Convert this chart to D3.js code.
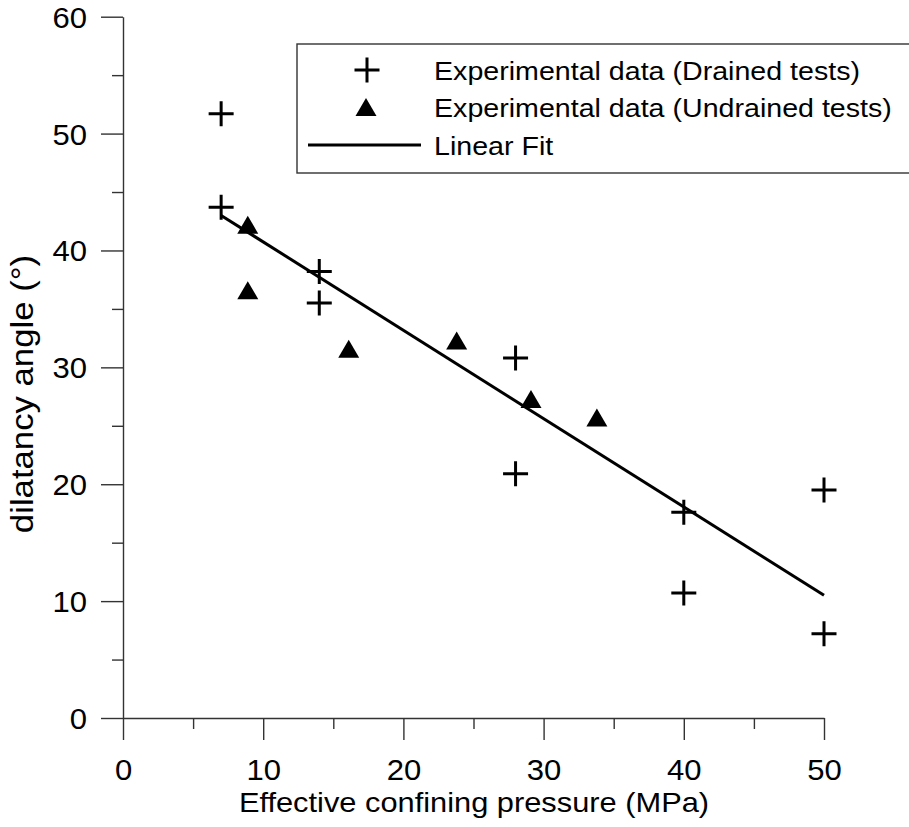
<!DOCTYPE html>
<html>
<head>
<script src="https://d3js.org/d3.v7.min.js"></script>
<style>
  body { margin: 0; background: white; }
  svg { display: block; font-family: "Liberation Sans", Arial, sans-serif; }
  .axis path, .axis line { stroke: #333; stroke-width: 1.4px; }
  .axis text { fill: black; }
</style>
</head>
<body>
<script>
// data
var drainedX = [7, 7, 14, 14, 28, 28, 40, 40, 50, 50];
var drainedY = [51.7, 43.7, 38.2, 35.5, 30.8, 20.9, 17.6, 10.7, 19.5, 7.2];
var undrainedX = [8.9, 8.9, 16.1, 23.8, 29.1, 33.8];
var undrainedY = [42.2, 36.6, 31.6, 32.3, 27.3, 25.7];
var fitX = [7, 50];
var fitY = [43.0, 10.5];
var xTicks = [0, 10, 20, 30, 40, 50];
var yTicks = [0, 10, 20, 30, 40, 50, 60];
var xMinor = [5, 15, 25, 35, 45];
var yMinor = [5, 15, 25, 35, 45, 55];
var legendLabels = ["Experimental data (Drained tests)", "Experimental data (Undrained tests)", "Linear Fit"];

var width = 909, height = 827;

var svg = d3.select("body").append("svg")
  .attr("width", width)
  .attr("height", height);

var x = d3.scaleLinear().domain([0, 50]).range([123, 824]);
var y = d3.scaleLinear().domain([0, 60]).range([718, 16.7]);

// stretch text a bit, the original font runs wider than Arial
function widen(sel, f) {
  sel.each(function() {
    var w = this.getComputedTextLength();
    d3.select(this).attr("textLength", w * f).attr("lengthAdjust", "spacingAndGlyphs");
  });
}

// minor ticks first
svg.append("g").attr("class", "axis")
  .attr("transform", "translate(0," + y(0) + ")")
  .call(d3.axisBottom(x).tickValues(xMinor).tickSize(11).tickSizeOuter(0).tickFormat(""))
  .select(".domain").remove();
svg.append("g").attr("class", "axis")
  .attr("transform", "translate(" + x(0) + ",0)")
  .call(d3.axisLeft(y).tickValues(yMinor).tickSize(11).tickSizeOuter(0).tickFormat(""))
  .select(".domain").remove();

var xAxis = svg.append("g").attr("class", "axis")
  .attr("transform", "translate(0," + y(0) + ")")
  .call(d3.axisBottom(x).tickValues(xTicks).tickSize(22).tickSizeOuter(0).tickPadding(20));
xAxis.selectAll("text")
  .attr("dy", null).attr("y", 62)
  .style("font-size", "29px").style("font-family", "Liberation Sans, Arial, sans-serif")
  .call(widen, 1.07);

var yAxis = svg.append("g").attr("class", "axis")
  .attr("transform", "translate(" + x(0) + ",0)")
  .call(d3.axisLeft(y).tickValues(yTicks).tickSize(22).tickSizeOuter(0));
yAxis.selectAll("text")
  .attr("x", -36).attr("dy", "0.36em")
  .style("font-size", "29px").style("font-family", "Liberation Sans, Arial, sans-serif")
  .call(widen, 1.07);

// axis titles
svg.append("text")
  .attr("x", 474).attr("y", 812)
  .attr("text-anchor", "middle")
  .style("font-size", "28px")
  .text("Effective confining pressure (MPa)")
  .call(widen, 1.1);

svg.append("text")
  .attr("transform", "translate(33,394) rotate(-90)")
  .attr("text-anchor", "middle")
  .style("font-size", "31px")
  .text("dilatancy angle (°)")
  .call(widen, 1.12);

// fit line
var line = d3.line().x(function(d) { return x(d[0]); }).y(function(d) { return y(d[1]); });
svg.append("path")
  .datum(d3.zip(fitX, fitY))
  .attr("d", line)
  .attr("fill", "none")
  .attr("stroke", "black")
  .attr("stroke-width", 3);

function plusPath(cx, cy) {
  var a = 12.5;
  return "M" + (cx - a) + "," + cy + "H" + (cx + a) + "M" + cx + "," + (cy - a) + "V" + (cy + a);
}
function triPath(cx, cy) {
  var w = 10.5, h = 9;
  return "M" + cx + "," + (cy - h) + "L" + (cx + w) + "," + (cy + h) + "L" + (cx - w) + "," + (cy + h) + "Z";
}

svg.append("g").selectAll("path")
  .data(d3.zip(drainedX, drainedY))
  .enter().append("path")
  .attr("d", function(d) { return plusPath(x(d[0]), y(d[1])); })
  .attr("stroke", "black").attr("stroke-width", 3).attr("fill", "none");

svg.append("g").selectAll("path")
  .data(d3.zip(undrainedX, undrainedY))
  .enter().append("path")
  .attr("d", function(d) { return triPath(x(d[0]), y(d[1])); })
  .attr("fill", "black");

// legend
var lg = svg.append("g");
lg.append("rect")
  .attr("x", 297).attr("y", 44)
  .attr("width", 630).attr("height", 129)
  .attr("fill", "white").attr("stroke", "#333").attr("stroke-width", 1.4);

var rowY = [70, 107, 145];
lg.append("path").attr("d", plusPath(367, rowY[0]))
  .attr("stroke", "black").attr("stroke-width", 3).attr("fill", "none");
lg.append("path").attr("d", triPath(366, rowY[1])).attr("fill", "black");
lg.append("line")
  .attr("x1", 308).attr("x2", 421).attr("y1", rowY[2]).attr("y2", rowY[2])
  .attr("stroke", "black").attr("stroke-width", 3);

lg.selectAll("text.lbl")
  .data(legendLabels)
  .enter().append("text")
  .attr("class", "lbl")
  .attr("x", 434)
  .attr("y", function(d, i) { return rowY[i] + 10; })
  .style("font-size", "26px")
  .text(function(d) { return d; })
  .call(widen, 1.1);
</script>
</body>
</html>
